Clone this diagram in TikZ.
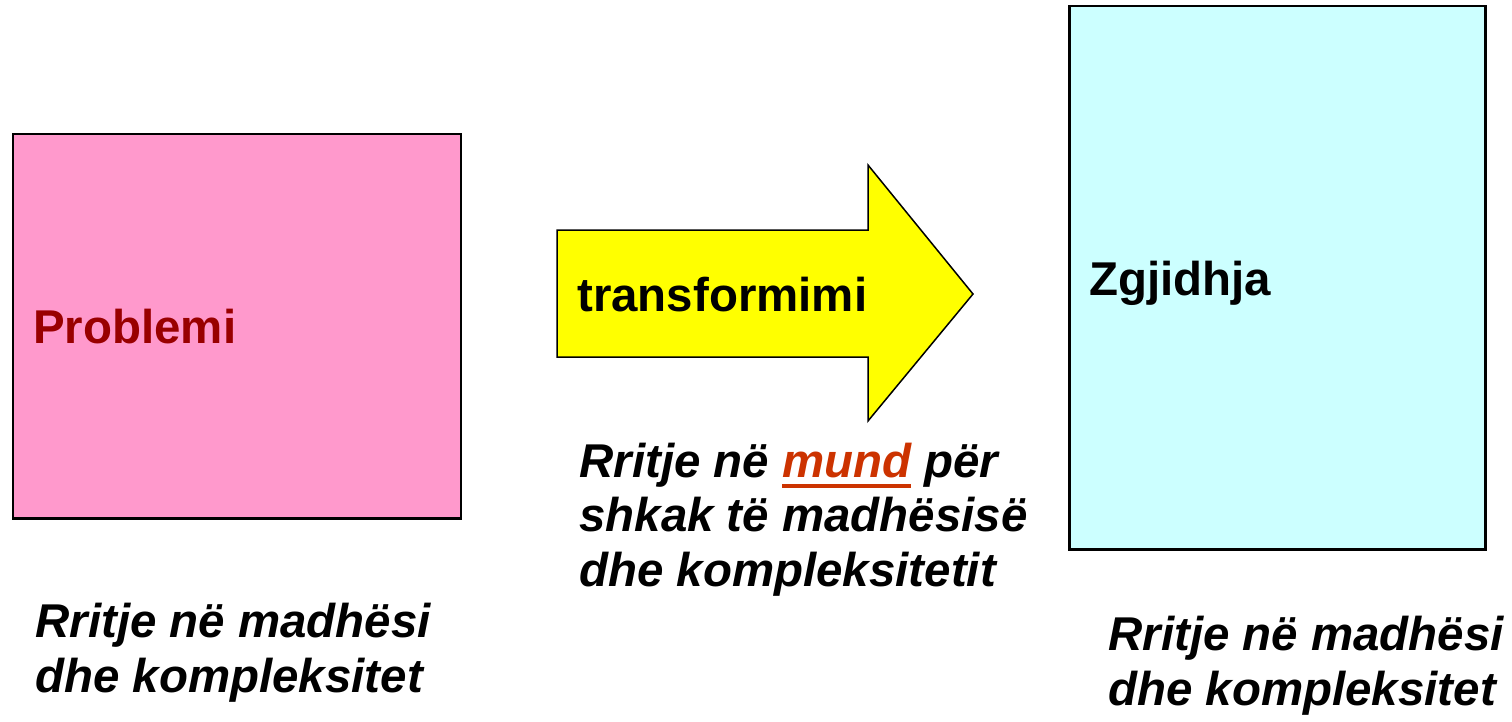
\documentclass[tikz,border=0pt]{standalone}
\usepackage{fontspec}
\setmainfont{Liberation Sans}
\usepackage{xcolor}
\usepackage{tikz}
\usetikzlibrary{positioning, calc}
\definecolor{problempink}{RGB}{255, 153, 204}
\definecolor{solutioncyan}{RGB}{204, 255, 255}
\definecolor{arrowyellow}{RGB}{255, 255, 0}
\definecolor{problemred}{RGB}{153, 0, 0}
\definecolor{mundorange}{RGB}{204, 51, 0}
\newcommand{\thickul}[1]{\setbox0\hbox{#1}\rlap{\rule[-0.235em]{\wd0}{0.09em}}\box0}

\begin{document}
\begin{tikzpicture}[
    x=0.02cm, y=-0.02cm,
    box/.style={draw=black, line width=1.7pt},
    title/.style={anchor=base west, inner sep=0pt, font=\fontsize{27}{31}\selectfont\bfseries},
    note/.style={anchor=base west, inner sep=0pt, align=left,
                 font=\fontsize{27}{31}\selectfont\bfseries\itshape},
]
\useasboundingbox (0,0) rectangle (1512,721);

% Boxes
\draw[box, fill=problempink] (13,134) rectangle (461,518);
\draw[box, fill=solutioncyan] (1069,6) rectangle (1485,549);

% Transformation arrow
\draw[line width=0.85pt, fill=arrowyellow, line join=miter]
    (557,230) -- (868,230) -- (868,165) -- (973,294) -- (868,421)
    -- (868,357) -- (557,357) -- cycle;

% Labels
\node[title, text=problemred] (prob) at (33,343) {Problemi};
\node[title] (trans) at (577,311) {transformimi};
\node[title] (sol) at (1089,295) {Zgjidhja};

% Notes under the boxes (base = last line)
\node[note] (probnote) at (35,692) {Rritje në madhësi\\dhe kompleksitet};
\node[note] (transnote) at (579,586) {Rritje në \textcolor{mundorange}{\thickul{mund}} për\\shkak të madhësisë\\dhe kompleksitetit};
\node[note] (solnote) at (1108,705) {Rritje në madhësi\\dhe kompleksitet};

\end{tikzpicture}
\end{document}
